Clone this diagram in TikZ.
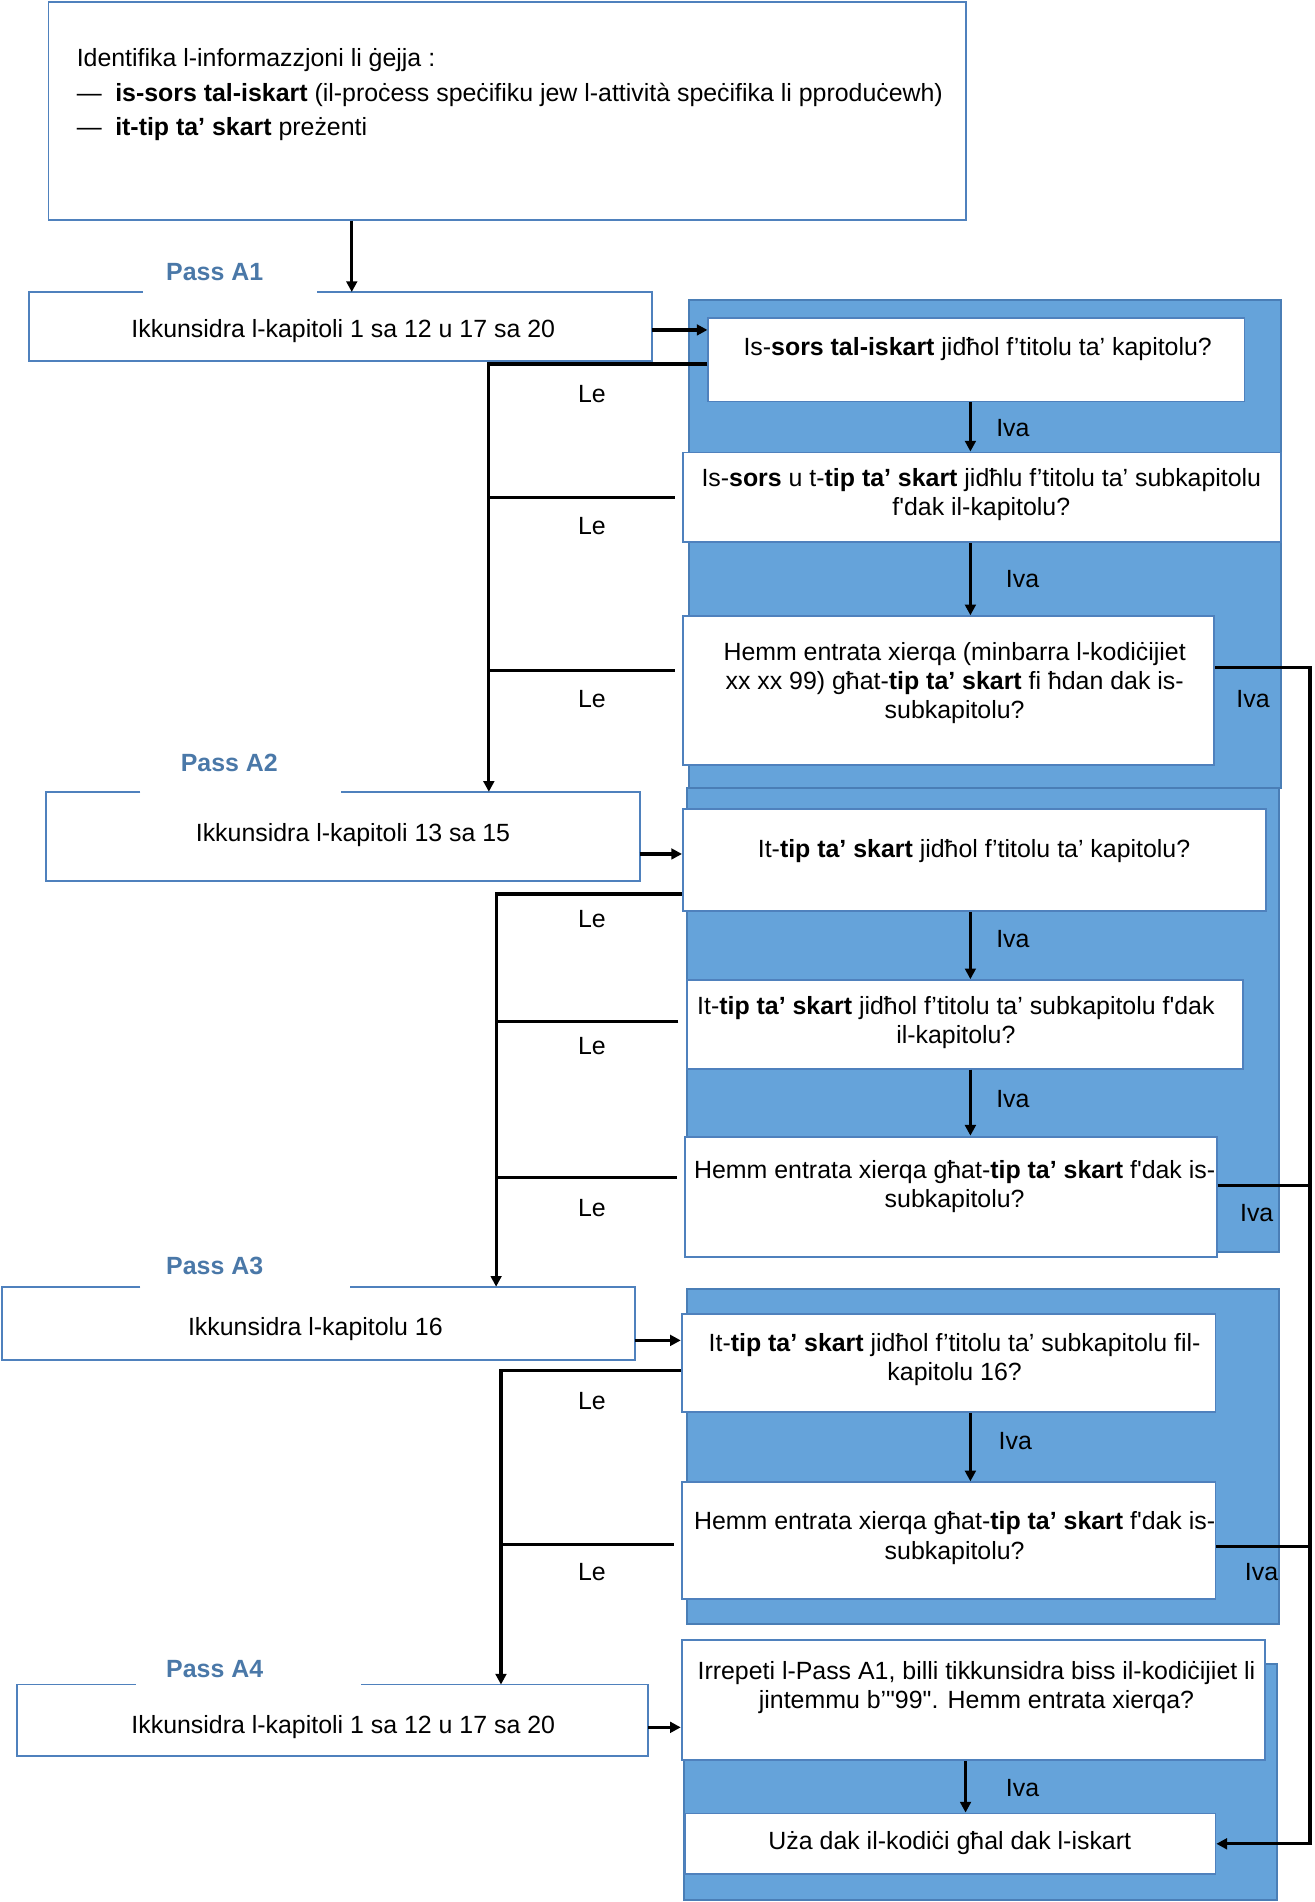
\documentclass[tikz,border=0pt]{standalone}
\usepackage{fontspec}
\usepackage{tikz}
\usetikzlibrary{arrows.meta,positioning,calc,fit}
\newfontfamily\arialfont{Liberation Sans}
\definecolor{boxline}{HTML}{4F81BD}
\definecolor{panelfill}{HTML}{65A3DA}
\definecolor{panelline}{HTML}{4A7EB6}
\definecolor{passblue}{HTML}{4A78A8}
\newcommand{\bodyfont}{\arialfont\fontsize{14.6}{17.1}\selectfont}
\tikzset{
  panel/.style={draw=panelline,fill=panelfill,line width=1.2pt,inner sep=0pt},
  qbox/.style={draw=boxline,fill=white,line width=1.1pt,inner sep=0pt},
  passbox/.style={inner sep=0pt},
  frame/.style={draw=boxline,line width=1.1pt},
  qtext/.style={align=center,inner sep=0pt,yshift=-0.05cm},
  passlabel/.style={text=passblue,font=\bodyfont\bfseries,inner sep=0pt},
  answer/.style={inner sep=0pt},
  link/.style={draw=black,line width=1.9pt},
  arrow/.style={link,-{Triangle[length=0.22cm,width=0.22cm]}}
}
\begin{document}
\begin{tikzpicture}[x=0.025cm,y=-0.025cm,font=\bodyfont]
  \useasboundingbox (0,0) rectangle (1084,1568);
  % blue panels behind the questions
  \node[panel,fit={(568,247) (1056,650)}] (p1) {};
  \node[panel,fit={(566,650) (1054,1032)}] (p2) {};
  \node[panel,fit={(566,1063) (1054,1339)}] (p3) {};
  \node[panel,fit={(564,1372) (1053,1566)}] (p4) {};

  % boxes
  \node[qbox,fit={(40,2) (796,181)}] (top) {};
  \node[passbox,fit={(24,241) (537,297)}] (a1) {};
  \node[passbox,fit={(38,653) (527,726)}] (a2) {};
  \node[passbox,fit={(2,1061) (523,1121)}] (a3) {};
  \node[passbox,fit={(14,1389) (534,1447)}] (a4) {};
  \foreach \b/\l/\r in {a1/94/238,a2/78/243,a3/114/287,a4/98/284}{
    \draw[frame] ($(\b.north west)+(\l,0)$) -| (\b.south west) -| (\b.north east) -- ($(\b.north west)+(\r,0)$);
  }
  \node[qbox,fit={(584,262) (1026,331)}] (q1) {};
  \node[qbox,fit={(563,373) (1056,447)}] (q2) {};
  \node[qbox,fit={(563,508) (1001,631)}] (q3) {};
  \node[qbox,fit={(563,667) (1044,751)}] (q4) {};
  \node[qbox,fit={(566,808) (1025,881)}] (q5) {};
  \node[qbox,fit={(565,937) (1003,1036)}] (q6) {};
  \node[qbox,fit={(562,1083) (1002,1164)}] (q7) {};
  \node[qbox,fit={(562,1222) (1002,1318)}] (q8) {};
  \node[qbox,fit={(562,1352) (1043,1451)}] (q9) {};
  \node[qbox,fit={(565,1495) (1002,1545)}] (q10) {};

  % texts
  \node[anchor=west,align=left,inner sep=0pt,font=\arialfont\fontsize{14.6}{20.3}\selectfont] (t0) at (63,78)
    {Identifika l-informazzjoni li ġejja :\\
     —\hspace{0.28cm}\textbf{is-sors tal-iskart} (il-proċess speċifiku jew l-attività speċifika li pproduċewh)\\
     —\hspace{0.28cm}\textbf{it-tip ta’ skart} preżenti};
  \node[passlabel] (pa1) at (177,224) {Pass A1};
  \node[passlabel] (pa2) at (189,629) {Pass A2};
  \node[passlabel] (pa3) at (177,1044) {Pass A3};
  \node[passlabel] (pa4) at (177,1376) {Pass A4};
  \node[qtext] (ta1) at (283,271) {Ikkunsidra l-kapitoli 1 sa 12 u 17 sa 20};
  \node[qtext] (ta2) at (291,686) {Ikkunsidra l-kapitoli 13 sa 15};
  \node[qtext] (ta3) at (260,1094) {Ikkunsidra l-kapitolu 16};
  \node[qtext] (ta4) at (283,1422) {Ikkunsidra l-kapitoli 1 sa 12 u 17 sa 20};
  \node[qtext] (tq1) at (806,286) {Is-\textbf{sors tal-iskart} jidħol f’titolu ta’ kapitolu?};
  \node[qtext] (tq2) at (809,406) {Is-\textbf{sors} u t-\textbf{tip ta’ skart} jidħlu f’titolu ta’ subkapitolu\\ f'dak il-kapitolu?};
  \node[qtext] (tq3) at (787,561) {Hemm entrata xierqa (minbarra l-kodiċijiet\\ xx xx 99) għat-\textbf{tip ta’ skart} fi ħdan dak is-\\ subkapitolu?};
  \node[qtext] (tq4) at (803,700) {It-\textbf{tip ta’ skart} jidħol f’titolu ta’ kapitolu?};
  \node[qtext] (tq5) at (788,841) {It-\textbf{tip ta’ skart} jidħol f’titolu ta’ subkapitolu f'dak\\ il-kapitolu?};
  \node[qtext] (tq6) at (787,976) {Hemm entrata xierqa għat-\textbf{tip ta’ skart} f'dak is-\\ subkapitolu?};
  \node[qtext] (tq7) at (787,1119) {It-\textbf{tip ta’ skart} jidħol f’titolu ta’ subkapitolu fil-\\ kapitolu 16?};
  \node[qtext] (tq8) at (787,1266) {Hemm entrata xierqa għat-\textbf{tip ta’ skart} f'dak is-\\ subkapitolu?};
  \node[qtext] (tq9) at (805,1389) {Irrepeti l-Pass A1, billi tikkunsidra biss il-kodiċijiet li\\ jintemmu b’"99". Hemm entrata xierqa?};
  \node[qtext] (tq10) at (783,1517) {Uża dak il-kodiċi għal dak l-iskart};
  \foreach \n/\y in {1/325,2/434,3/576,4/758,5/862,6/996,7/1155,8/1296}
    \node[answer] (le\n) at (488,\y) {Le};
  \foreach \n/\x/\y in {1/835/353,2/843/477,3/1033/576,4/835/774,5/835/906,6/1036/1000,7/837/1188,8/1040/1296,9/843/1474}
    \node[answer] (iva\n) at (\x,\y) {Iva};

  % levels of the connectors
  \foreach \n/\y in {in1/272,in2/704,in3/1105,in4/1424,
    le1/300,le2/410,le3/553,le4/737,le5/842,le6/971,le7/1130,le8/1273,
    ex1/550,ex2/977,ex3/1275}
    \coordinate (\n) at (0,\y);
  \foreach \n/\x in {xt/290,xb1/403,xb2/409,xb3/413,xiva/800,xivb/796,xr/1080}
    \coordinate (\n) at (\x,0);

  \draw[arrow] (top.south -| xt) -- (a1.north -| xt);
  \draw[arrow] (a1.east |- in1) -- (q1.west |- in1);
  \draw[arrow] (a2.east |- in2) -- (q4.west |- in2);
  \draw[arrow] (a3.east |- in3) -- (q7.west |- in3);
  \draw[arrow] (a4.east |- in4) -- (q9.west |- in4);
  % Iva
  \foreach \a/\b in {q1/q2,q2/q3,q4/q5,q5/q6,q7/q8}
    \draw[arrow] (\a.south -| xiva) -- (\b.north -| xiva);
  \draw[arrow] (q9.south -| xivb) -- (q10.north -| xivb);
  \draw[arrow] (q3.east |- ex1) -| (q10.east -| xr) -- (q10.east);
  \draw[link] (q6.east |- ex2) -- (xr |- ex2);
  \draw[link] (q8.east |- ex3) -- (xr |- ex3);
  % Le
  \draw[arrow] (q1.west |- le1) -| (a2.north -| xb1);
  \draw[link] ($(q2.west |- le2)+(-6,0)$) -- (xb1 |- le2);
  \draw[link] ($(q3.west |- le3)+(-6,0)$) -- (xb1 |- le3);
  \draw[arrow] (q4.west |- le4) -| (a3.north -| xb2);
  \draw[link] ($(q5.west |- le5)+(-6,0)$) -- (xb2 |- le5);
  \draw[link] ($(q6.west |- le6)+(-6,0)$) -- (xb2 |- le6);
  \draw[arrow] (q7.west |- le7) -| (a4.north -| xb3);
  \draw[link] ($(q8.west |- le8)+(-6,0)$) -- (xb3 |- le8);
\end{tikzpicture}
\end{document}
